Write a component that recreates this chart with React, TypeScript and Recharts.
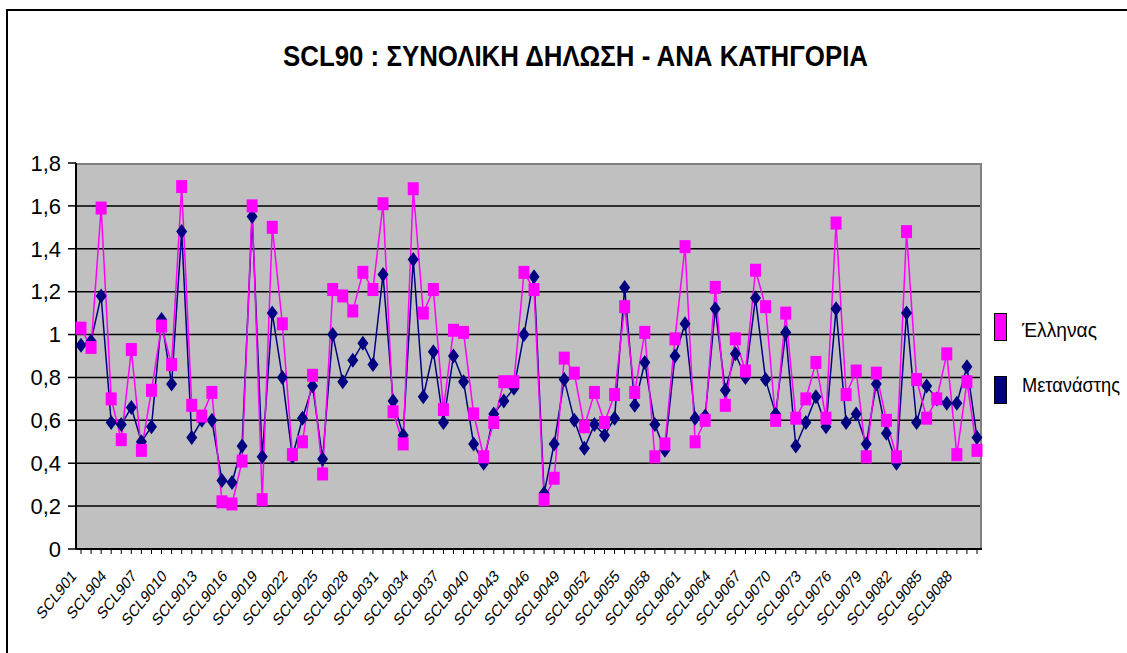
import React from "react";
import {
  LineChart,
  Line,
  XAxis,
  YAxis,
  CartesianGrid,
} from "recharts";

// ─── DATA ────────────────────────────────────────────────────────────────────

const CATEGORIES = [
  "SCL901", "SCL902", "SCL903", "SCL904", "SCL905", "SCL906", "SCL907", "SCL908", "SCL909", "SCL9010",
  "SCL9011", "SCL9012", "SCL9013", "SCL9014", "SCL9015", "SCL9016", "SCL9017", "SCL9018", "SCL9019", "SCL9020",
  "SCL9021", "SCL9022", "SCL9023", "SCL9024", "SCL9025", "SCL9026", "SCL9027", "SCL9028", "SCL9029", "SCL9030",
  "SCL9031", "SCL9032", "SCL9033", "SCL9034", "SCL9035", "SCL9036", "SCL9037", "SCL9038", "SCL9039", "SCL9040",
  "SCL9041", "SCL9042", "SCL9043", "SCL9044", "SCL9045", "SCL9046", "SCL9047", "SCL9048", "SCL9049", "SCL9050",
  "SCL9051", "SCL9052", "SCL9053", "SCL9054", "SCL9055", "SCL9056", "SCL9057", "SCL9058", "SCL9059", "SCL9060",
  "SCL9061", "SCL9062", "SCL9063", "SCL9064", "SCL9065", "SCL9066", "SCL9067", "SCL9068", "SCL9069", "SCL9070",
  "SCL9071", "SCL9072", "SCL9073", "SCL9074", "SCL9075", "SCL9076", "SCL9077", "SCL9078", "SCL9079", "SCL9080",
  "SCL9081", "SCL9082", "SCL9083", "SCL9084", "SCL9085", "SCL9086", "SCL9087", "SCL9088", "SCL9089", "SCL9090",
];

// Έλληνας (ροζ τετράγωνα)
const ELLINAS = [
  1.03, 0.94, 1.59, 0.7, 0.51, 0.93, 0.46, 0.74, 1.04, 0.86,
  1.69, 0.67, 0.62, 0.73, 0.22, 0.21, 0.41, 1.6, 0.23, 1.5,
  1.05, 0.44, 0.5, 0.81, 0.35, 1.21, 1.18, 1.11, 1.29, 1.21,
  1.61, 0.64, 0.49, 1.68, 1.1, 1.21, 0.65, 1.02, 1.01, 0.63,
  0.43, 0.59, 0.78, 0.78, 1.29, 1.21, 0.23, 0.33, 0.89, 0.82,
  0.57, 0.73, 0.59, 0.72, 1.13, 0.73, 1.01, 0.43, 0.49, 0.98,
  1.41, 0.5, 0.6, 1.22, 0.67, 0.98, 0.83, 1.3, 1.13, 0.6,
  1.1, 0.61, 0.7, 0.87, 0.61, 1.52, 0.72, 0.83, 0.43, 0.82,
  0.6, 0.43, 1.48, 0.79, 0.61, 0.7, 0.91, 0.44, 0.78, 0.46,
];

// Μετανάστης (μπλε ρόμβοι)
const METANASTIS = [
  0.95, 0.97, 1.18, 0.59, 0.58, 0.66, 0.5, 0.57, 1.07, 0.77,
  1.48, 0.52, 0.6, 0.6, 0.32, 0.31, 0.48, 1.55, 0.43, 1.1,
  0.8, 0.43, 0.61, 0.76, 0.42, 1.0, 0.78, 0.88, 0.96, 0.86,
  1.28, 0.69, 0.53, 1.35, 0.71, 0.92, 0.59, 0.9, 0.78, 0.49,
  0.4, 0.63, 0.69, 0.75, 1.0, 1.27, 0.26, 0.49, 0.79, 0.6,
  0.47, 0.58, 0.53, 0.61, 1.22, 0.67, 0.87, 0.58, 0.46, 0.9,
  1.05, 0.61, 0.62, 1.12, 0.74, 0.91, 0.8, 1.17, 0.79, 0.63,
  1.01, 0.48, 0.59, 0.71, 0.57, 1.12, 0.59, 0.63, 0.49, 0.77,
  0.54, 0.4, 1.1, 0.59, 0.76, 0.7, 0.68, 0.68, 0.85, 0.52,
];

const Y_TICKS = [0, 0.2, 0.4, 0.6, 0.8, 1, 1.2, 1.4, 1.6, 1.8];
const GRID_VALUES = [0.2, 0.4, 0.6, 0.8, 1, 1.2, 1.4, 1.6];

const TITLE = "SCL90 : ΣΥΝΟΛΙΚΗ ΔΗΛΩΣΗ - ΑΝΑ ΚΑΤΗΓΟΡΙΑ";
const SERIES = [
  { key: "ellinas", name: "Έλληνας", color: "#FF00FF" },
  { key: "metanastis", name: "Μετανάστης", color: "#000080" },
];

const data = CATEGORIES.map((c, i) => ({
  name: c,
  ellinas: ELLINAS[i],
  metanastis: METANASTIS[i],
}));

const FONT = "'Liberation Sans', Arial, sans-serif";

// ─── MARKERS ─────────────────────────────────────────────────────────────────

function SquareDot(props: any) {
  const { cx, cy, index } = props;
  if (cx == null || cy == null) return <g key={`s-${index}`} />;
  return (
    <rect
      key={`s-${index}`}
      x={cx - 5.5}
      y={cy - 6.5}
      width={11}
      height={13}
      fill="#FF00FF"
    />
  );
}

function DiamondDot(props: any) {
  const { cx, cy, index } = props;
  if (cx == null || cy == null) return <g key={`d-${index}`} />;
  return (
    <polygon
      key={`d-${index}`}
      points={`${cx},${cy - 7.5} ${cx + 5.5},${cy} ${cx},${cy + 7.5} ${cx - 5.5},${cy}`}
      fill="#000080"
    />
  );
}

// ─── TICKS ───────────────────────────────────────────────────────────────────

function XTick(props: any) {
  const { x, y, payload, index } = props;
  const i = index ?? payload?.index ?? 0;
  if (i % 3 !== 0) return <g />;
  return (
    <text
      transform={`translate(${x - 4},${y + 21}) scale(0.8,1) rotate(-45)`}
      textAnchor="end"
      fontSize={17}
      fontFamily={FONT}
      fill="#000"
    >
      {payload.value}
    </text>
  );
}

const fmtY = (v: number) =>
  v === 0 ? "0" : String(Number(v.toFixed(1))).replace(".", ",");

// ─── LEGEND ──────────────────────────────────────────────────────────────────

function ChartLegend() {
  return (
    <svg
      width={139}
      height={110}
      style={{ position: "absolute", left: 988, top: 299 }}
    >
      {SERIES.map((s, i) => (
        <g key={s.key}>
          <rect
            x={6.5}
            y={14.5 + i * 63}
            width={12}
            height={27}
            fill={s.color}
            stroke="#000"
            strokeWidth={1}
          />
          <text
            x={34}
            y={38 + i * 55}
            fontSize={21}
            fontFamily={FONT}
            textLength={i === 0 ? 75 : 98}
            lengthAdjust="spacingAndGlyphs"
            fill="#000"
          >
            {s.name}
          </text>
        </g>
      ))}
    </svg>
  );
}

// ─── MAIN ────────────────────────────────────────────────────────────────────

export default function App() {
  return (
    <div
      style={{
        position: "absolute",
        left: 0,
        top: 0,
        width: 1127,
        height: 653,
        overflow: "hidden",
        background: "#fff",
      }}
    >
      {/* outer chart border (right/bottom fall outside the picture) */}
      <div
        style={{
          position: "absolute",
          left: 6,
          top: 9,
          width: 1300,
          height: 800,
          border: "2px solid #000",
          pointerEvents: "none",
        }}
      />

      {/* title */}
      <svg
        width={1127}
        height={90}
        style={{ position: "absolute", left: 0, top: 0 }}
      >
        <text
          x={575.5}
          y={66}
          textAnchor="middle"
          fontSize={29}
          fontWeight="bold"
          fontFamily={FONT}
          textLength={585}
          lengthAdjust="spacingAndGlyphs"
          fill="#000"
        >
          {TITLE}
        </text>
      </svg>

      <div style={{ position: "absolute", left: 0, top: 0 }}>
        <LineChart
          width={1127}
          height={653}
          data={data}
          margin={{ top: 163, right: 145, bottom: 0, left: 0 }}
        >
          <CartesianGrid
            fill="#C0C0C0"
            stroke="#000"
            strokeWidth={1.5}
            vertical={false}
            horizontalValues={GRID_VALUES}
          />
          {/* grey frame on top and right of plot area */}
          <CartesianGrid
            stroke="#808080"
            strokeWidth={2}
            horizontalPoints={[164]}
            verticalPoints={[981]}
          />
          <XAxis
            dataKey="name"
            height={104}
            interval={0}
            padding={{ left: 5, right: 5 }}
            tick={<XTick />}
            tickSize={5}
            axisLine={{ stroke: "#000", strokeWidth: 2 }}
            tickLine={{ stroke: "#000", strokeWidth: 1 }}
          />
          <YAxis
            width={76}
            domain={[0, 1.8]}
            ticks={Y_TICKS}
            interval={0}
            tickFormatter={fmtY}
            tickSize={8}
            tickMargin={7}
            tick={{ fill: "#000", fontSize: 22, fontFamily: FONT }}
            axisLine={{ stroke: "#000", strokeWidth: 2 }}
            tickLine={{ stroke: "#000", strokeWidth: 1.5 }}
          />
          <Line
            dataKey="metanastis"
            name="Μετανάστης"
            stroke="#000080"
            strokeWidth={1.5}
            dot={<DiamondDot />}
            activeDot={false}
            isAnimationActive={false}
          />
          <Line
            dataKey="ellinas"
            name="Έλληνας"
            stroke="#FF00FF"
            strokeWidth={1.5}
            dot={<SquareDot />}
            activeDot={false}
            isAnimationActive={false}
          />
        </LineChart>
      </div>

      <ChartLegend />
    </div>
  );
}
